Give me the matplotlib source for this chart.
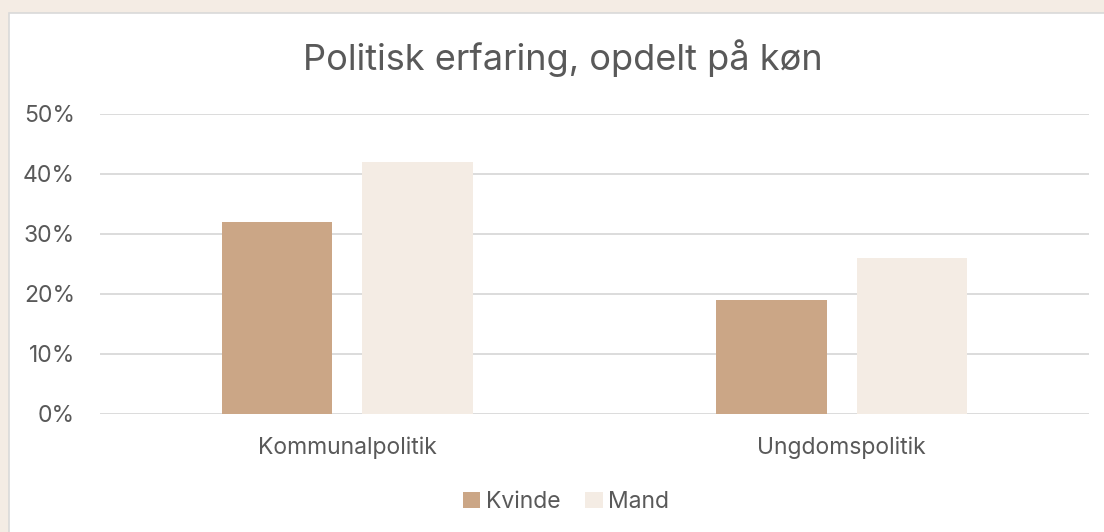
import matplotlib
matplotlib.use("Agg")
import matplotlib.pyplot as plt
from matplotlib.patches import Rectangle
import numpy as np

categories = ["Kommunalpolitik", "Ungdomspolitik"]
series_names = ["Kvinde", "Mand"]
kvinde = [0.32, 0.19]
mand = [0.42, 0.26]
y_ticks = [0, 0.1, 0.2, 0.3, 0.4, 0.5]
y_labels = ["0%", "10%", "20%", "30%", "40%", "50%"]
title = "Politisk erfaring, opdelt på køn"

c_kvinde = "#CBA686"
c_mand = "#F4ECE4"
text_col = "#595959"
grid_col = "#D9D9D9"

plt.rcParams["font.family"] = ["Inter", "DejaVu Sans"]

W, H = 1104, 532
fig = plt.figure(figsize=(W / 100, H / 100), dpi=100)
fig.patch.set_facecolor(c_mand)

# white chart area with gray border (top-left offset)
bg = Rectangle((9 / W, -0.01), 1 - 9 / W + 0.01, 1 - 13 / H + 0.01,
               transform=fig.transFigure, facecolor="white",
               edgecolor="#D9D9D9", linewidth=1.2, zorder=-5)
fig.patches.append(bg)

ax = fig.add_axes([100 / W, 1 - 414 / H, (1089 - 100) / W, 300 / H])
ax.set_zorder(5)
ax.set_facecolor("none")
x = np.arange(len(categories))
bw = 0.224
off = 0.142
ax.bar(x - off, kvinde, bw, color=c_kvinde, label=series_names[0], zorder=3)
ax.bar(x + off, mand, bw, color=c_mand, label=series_names[1], zorder=3)
ax.set_xlim(-0.5, 1.5)
ax.set_ylim(0, 0.5)
ax.set_yticks(y_ticks)
ax.set_yticklabels(y_labels, fontsize=16.5, color=text_col)
ax.set_xticks(x)
ax.set_xticklabels(categories, fontsize=16.5, color=text_col)
ax.tick_params(axis="both", length=0)
ax.tick_params(axis="y", pad=18)
ax.tick_params(axis="x", pad=16)
ax.grid(axis="y", color=grid_col, linewidth=1.3, zorder=0)
ax.set_axisbelow(True)
for s in ax.spines.values():
    s.set_visible(False)

fig.text(563 / W, 1 - 58 / H, title, ha="center", va="center",
         fontsize=26, color=text_col, zorder=6)

leg = ax.legend(loc="center", bbox_to_anchor=(566 / W, 1 - 502 / H),
                bbox_transform=fig.transFigure, ncol=2, frameon=False,
                fontsize=16.5, handlelength=0.75, handleheight=0.75,
                handletextpad=0.25, columnspacing=1.1)
for t in leg.get_texts():
    t.set_color(text_col)

fig.savefig("out.png", dpi=100, facecolor=fig.get_facecolor())
